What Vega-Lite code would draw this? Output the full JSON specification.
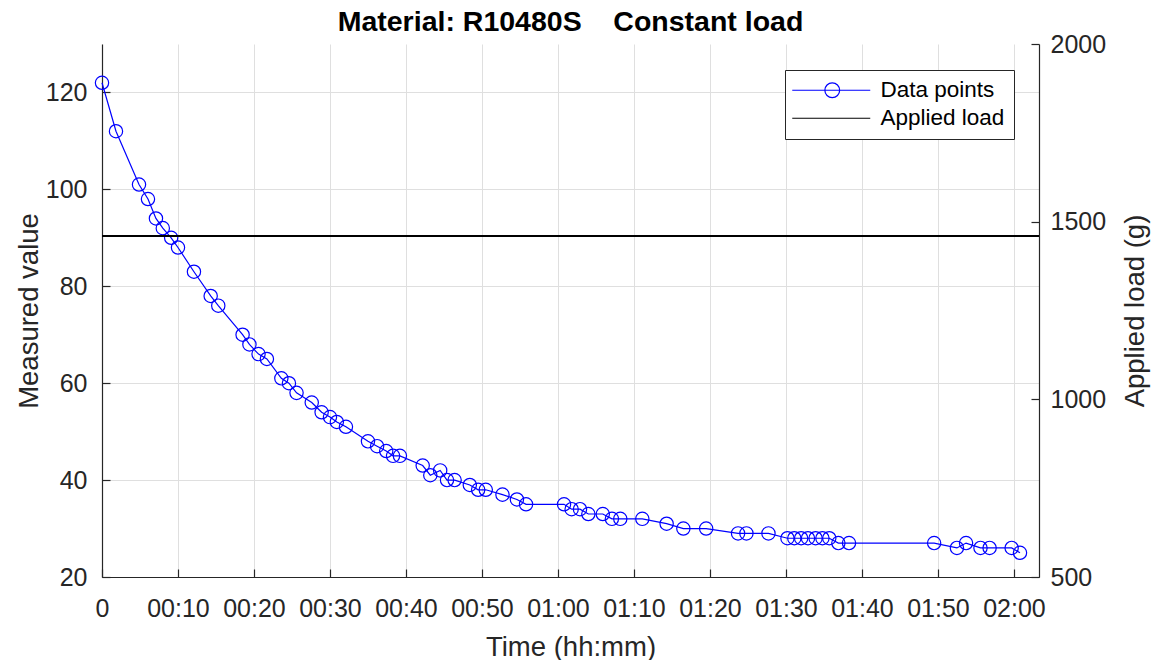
{
  "$schema": "https://vega.github.io/schema/vega-lite/v6.json",
  "autosize": "none",
  "width": 937,
  "height": 533,
  "padding": {"left": 102, "top": 44, "right": 123, "bottom": 83},
  "background": "white",
  "config": {
    "font": "Liberation Sans",
    "view": {"stroke": null},
    "axis": {
      "domainColor": "#262626",
      "domainWidth": 1.2,
      "tickColor": "#262626",
      "tickSize": -8,
      "tickWidth": 1.2,
      "labelColor": "#262626",
      "titleColor": "#262626",
      "labelFontSize": 25,
      "titleFontSize": 27.5,
      "titleFontWeight": "normal",
      "gridColor": "#dfdfdf",
      "gridWidth": 1
    }
  },
  "title": {
    "text": "Material: R10480S\u00a0\u00a0\u00a0\u00a0Constant load",
    "fontSize": 28.5,
    "fontWeight": "bold",
    "color": "#000000",
    "anchor": "middle",
    "offset": -4
  },
  "datasets": {
    "measurements": [
      {"t": 0, "v": 122}, {"t": 1.84, "v": 112}, {"t": 4.87, "v": 101}, {"t": 6.05, "v": 98},
      {"t": 7.1, "v": 94}, {"t": 8.0, "v": 92}, {"t": 9.1, "v": 90}, {"t": 10.0, "v": 88},
      {"t": 12.1, "v": 83}, {"t": 14.3, "v": 78}, {"t": 15.3, "v": 76}, {"t": 18.5, "v": 70},
      {"t": 19.4, "v": 68}, {"t": 20.6, "v": 66}, {"t": 21.7, "v": 65}, {"t": 23.6, "v": 61},
      {"t": 24.6, "v": 60}, {"t": 25.6, "v": 58}, {"t": 27.6, "v": 56}, {"t": 28.9, "v": 54},
      {"t": 30.0, "v": 53}, {"t": 30.9, "v": 52}, {"t": 32.1, "v": 51}, {"t": 35.0, "v": 48},
      {"t": 36.2, "v": 47}, {"t": 37.4, "v": 46}, {"t": 38.3, "v": 45}, {"t": 39.2, "v": 45},
      {"t": 42.2, "v": 43}, {"t": 43.2, "v": 41}, {"t": 44.5, "v": 42}, {"t": 45.4, "v": 40},
      {"t": 46.4, "v": 40}, {"t": 48.4, "v": 39}, {"t": 49.5, "v": 38}, {"t": 50.5, "v": 38},
      {"t": 52.7, "v": 37}, {"t": 54.6, "v": 36}, {"t": 55.8, "v": 35}, {"t": 60.8, "v": 35},
      {"t": 61.8, "v": 34}, {"t": 62.9, "v": 34}, {"t": 64.0, "v": 33}, {"t": 65.9, "v": 33},
      {"t": 67.1, "v": 32}, {"t": 68.2, "v": 32}, {"t": 71.1, "v": 32}, {"t": 74.3, "v": 31},
      {"t": 76.5, "v": 30}, {"t": 79.5, "v": 30}, {"t": 83.7, "v": 29}, {"t": 84.8, "v": 29},
      {"t": 87.7, "v": 29}, {"t": 90.2, "v": 28}, {"t": 91.1, "v": 28}, {"t": 92.0, "v": 28},
      {"t": 92.9, "v": 28}, {"t": 93.9, "v": 28}, {"t": 94.8, "v": 28}, {"t": 95.7, "v": 28},
      {"t": 96.9, "v": 27}, {"t": 98.3, "v": 27}, {"t": 109.5, "v": 27}, {"t": 112.5, "v": 26},
      {"t": 113.7, "v": 27}, {"t": 115.6, "v": 26}, {"t": 116.8, "v": 26}, {"t": 119.7, "v": 26},
      {"t": 120.8, "v": 25}
    ],
    "load": [{"load": 1460}]
  },
  "layer": [
    {
      "data": {"name": "measurements"},
      "encoding": {
        "x": {
          "field": "t",
          "type": "quantitative",
          "scale": {"domain": [0, 123.3], "nice": false, "zero": false},
          "axis": {
            "values": [0, 10, 20, 30, 40, 50, 60, 70, 80, 90, 100, 110, 120],
            "labelExpr": "datum.value == 0 ? '0' : '0' + floor(datum.value / 60) + ':' + (datum.value % 60 < 10 ? '0' : '') + (datum.value % 60)",
            "title": "Time (hh:mm)",
            "grid": true,
            "labelPadding": 27,
            "titlePadding": 12,
            "labelFlush": false
          }
        },
        "y": {
          "field": "v",
          "type": "quantitative",
          "scale": {"domain": [20, 130], "nice": false, "zero": false},
          "axis": {
            "values": [20, 40, 60, 80, 100, 120],
            "title": "Measured value",
            "grid": true,
            "labelPadding": 23,
            "titlePadding": 2
          }
        },
        "stroke": {
          "datum": "Data points",
          "type": "nominal",
          "scale": {"domain": ["Data points", "Applied load"], "range": ["#0000ff", "#000000"]},
          "legend": {
            "orient": "none",
            "legendX": 683,
            "legendY": 26,
            "title": null,
            "padding": 9,
            "strokeColor": "#262626",
            "fillColor": "#ffffff",
            "cornerRadius": 0,
            "labelFontSize": 22.5,
            "labelColor": "#000000",
            "labelOffset": 64,
            "rowPadding": 5,
            "symbolSize": 400,
            "symbolStrokeWidth": 1.2,
            "encode": {
              "symbols": {
                "update": {
                  "shape": {"signal": "datum.value === 'Data points' ? 'M-1.3,0H6.5M3.44,0A0.74,0.74 0 1 1 1.96,0A0.74,0.74 0 1 1 3.44,0' : 'M-1.3,0H6.5'"},
                  "fill": {"value": "transparent"}
                }
              }
            }
          }
        }
      },
      "layer": [
        {"mark": {"type": "line", "strokeWidth": 1.2}},
        {"mark": {"type": "point", "shape": "circle", "filled": false, "size": 177, "strokeWidth": 1.2, "opacity": 1}}
      ]
    },
    {
      "data": {"name": "load"},
      "mark": {"type": "rule", "strokeWidth": 2},
      "encoding": {
        "y": {
          "field": "load",
          "type": "quantitative",
          "scale": {"domain": [500, 2000], "nice": false, "zero": false},
          "axis": {
            "orient": "right",
            "values": [500, 1000, 1500, 2000],
            "format": "d",
            "title": "Applied load (g)",
            "titleAngle": -90,
            "grid": false,
            "labelPadding": 19,
            "titlePadding": 44
          }
        },
        "stroke": {"datum": "Applied load", "type": "nominal"}
      }
    }
  ],
  "resolve": {"scale": {"y": "independent"}}
}
